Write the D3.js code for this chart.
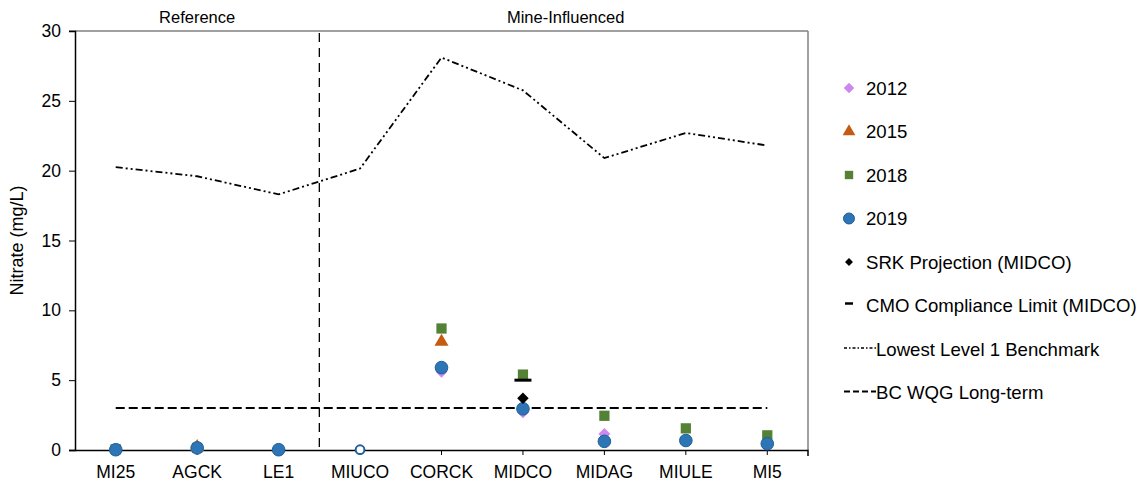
<!DOCTYPE html>
<html lang="en-US">
<head>
<meta charset="utf-8">
<script src="https://d3js.org/d3.v7.min.js"></script>
<style>
body { margin: 0; background: #fff; font-family: 'Liberation Sans', Arial, sans-serif; }
text { fill: #000; }
.axis text { font-size: 17.5px; font-family: 'Liberation Sans', Arial, sans-serif; fill: #000; }
.axis path, .axis line { stroke: #000; }
.legend text { font-size: 18.6px; }
</style>
</head>
<body>
<svg id="chart" width="1144" height="485"></svg>
<script>
  // sites along the creek
  const sites = ['MI25', 'AGCK', 'LE1', 'MIUCO', 'CORCK', 'MIDCO', 'MIDAG', 'MIULE', 'MI5']
  const yTicks = [0, 5, 10, 15, 20, 25, 30]

  // nitrate (mg/L) per year, null = not sampled
  const y2012 = [null, null, null, null, 5.6, 2.7, 1.15, null, 0.4]
  const y2015 = [null, 0.2, null, null, 7.75, null, null, null, null]
  const y2018 = [0.05, 0.15, null, null, 8.7, 5.4, 2.45, 1.55, 1.05]
  const y2019 = [0.02, 0.15, 0.02, 0.02, 5.9, 2.95, 0.62, 0.68, 0.45]
  const nondetect2019 = ['MIUCO']

  const srkProjection = 3.7   // MIDCO
  const cmoLimit = 5.0        // MIDCO
  const benchmark = [20.25, 19.6, 18.3, 20.15, 28.1, 25.75, 20.9, 22.7, 21.8]
  const bcWqg = 3

  const svg = d3.select('#chart')
  const plotL = 75, plotR = 808, plotT = 31, plotB = 450

  const x = d3.scaleBand().domain(sites).range([plotL, plotR])
  const y = d3.scaleLinear().domain([0, 30]).range([plotB, plotT])
  const cx = (s) => x(s) + x.bandwidth() / 2

  // frame (top + right in grey)
  svg.append('line').attr('x1', plotL - 6).attr('x2', plotR).attr('y1', plotT).attr('y2', plotT)
    .attr('stroke', '#808080').attr('stroke-width', 1.5)
  svg.append('line').attr('x1', plotR).attr('x2', plotR).attr('y1', plotT).attr('y2', plotB)
    .attr('stroke', '#808080').attr('stroke-width', 1.5)

  svg.append('g').attr('class', 'axis')
    .attr('transform', `translate(${plotL},0)`)
    .call(d3.axisLeft(y).tickValues(yTicks).tickSize(6).tickPadding(8))
    .call(g => g.select('.domain').attr('stroke-width', 1.5))

  const xAxis = svg.append('g').attr('class', 'axis')
    .attr('transform', `translate(0,${plotB})`)
    .call(d3.axisBottom(x).tickSize(5).tickSizeOuter(0).tickPadding(8))
  xAxis.select('.domain').attr('d', `M${plotL - 6},0.5H${plotR}V6`).attr('stroke-width', 1.5)
  xAxis.selectAll('text').attr('dy', '0.85em')

  // reference / mine-influenced split
  const split = x('MIUCO')
  svg.append('line').attr('x1', split).attr('x2', split).attr('y1', plotT + 2).attr('y2', plotB)
    .attr('stroke', '#000').attr('stroke-width', 1.3).attr('stroke-dasharray', '9 6')

  svg.append('text').attr('x', (plotL + split) / 2 + 0).attr('y', 23).attr('text-anchor', 'middle')
    .style('font-size', '16.5px').text('Reference')
  svg.append('text').attr('x', (split + plotR) / 2 + 2).attr('y', 23).attr('text-anchor', 'middle')
    .style('font-size', '16.5px').text('Mine-Influenced')

  svg.append('text').attr('transform', `translate(23,${(plotT + plotB) / 2}) rotate(-90)`)
    .attr('text-anchor', 'middle').style('font-size', '18px').text('Nitrate (mg/L)')

  // guideline lines
  svg.append('path')
    .attr('d', d3.line().x((d, i) => cx(sites[i])).y(d => y(d))(benchmark))
    .attr('fill', 'none').attr('stroke', '#000').attr('stroke-width', 1.8)
    .attr('stroke-dasharray', '7 3 2 3 2 3')

  svg.append('line').attr('x1', cx(sites[0])).attr('x2', cx(sites[sites.length - 1]))
    .attr('y1', y(bcWqg)).attr('y2', y(bcWqg))
    .attr('stroke', '#000').attr('stroke-width', 2).attr('stroke-dasharray', '9 4')

  const colors = { '2012': '#CC88EE', '2015': '#C55A11', '2018': '#548235', '2019': '#2E75B6' }
  const shapes = { '2012': d3.symbolDiamond2, '2015': d3.symbolTriangle, '2018': d3.symbolSquare, '2019': d3.symbolCircle }
  const sizes = { '2012': 90, '2015': 85, '2018': 105, '2019': 125 }

  function drawSeries(key, vals) {
    svg.append('g').selectAll('path')
      .data(vals.map((v, i) => ({ site: sites[i], v })).filter(d => d.v !== null))
      .join('path')
      .attr('transform', d => `translate(${cx(d.site)},${y(d.v)})`)
      .attr('d', d3.symbol().type(shapes[key]).size(d => key === '2019' && nondetect2019.includes(d.site) ? 60 : sizes[key]))
      .attr('fill', d => key === '2019' && nondetect2019.includes(d.site) ? '#fff' : colors[key])
      .attr('stroke', d => key === '2019' ? '#1F5F99' : 'none')
      .attr('stroke-width', d => key === '2019' && nondetect2019.includes(d.site) ? 2 : 1)
  }
  drawSeries('2012', y2012)
  drawSeries('2015', y2015)
  drawSeries('2018', y2018)
  drawSeries('2019', y2019)

  // MIDCO projection + compliance limit
  svg.append('path').attr('transform', `translate(${cx('MIDCO')},${y(srkProjection)})`)
    .attr('d', d3.symbol().type(d3.symbolDiamond2).size(85)).attr('fill', '#000')
  svg.append('line').attr('x1', cx('MIDCO') - 8.5).attr('x2', cx('MIDCO') + 8.5)
    .attr('y1', y(cmoLimit)).attr('y2', y(cmoLimit)).attr('stroke', '#000').attr('stroke-width', 3)

  // legend
  const lg = svg.append('g').attr('class', 'legend')
  const rows = [
    { label: '2012', type: 'sym', key: '2012' },
    { label: '2015', type: 'sym', key: '2015' },
    { label: '2018', type: 'sym', key: '2018' },
    { label: '2019', type: 'sym', key: '2019' },
    { label: 'SRK Projection (MIDCO)', type: 'srk' },
    { label: 'CMO Compliance Limit (MIDCO)', type: 'cmo' },
    { label: 'Lowest Level 1 Benchmark', type: 'bench' },
    { label: 'BC WQG Long-term', type: 'wqg' }
  ]
  rows.forEach((r, i) => {
    const ry = 88 + i * 43.5
    let tx = 866
    if (r.type === 'sym') {
      lg.append('path').attr('transform', `translate(849,${ry})`)
        .attr('d', d3.symbol().type(shapes[r.key]).size(r.key === '2019' ? 95 : 70))
        .attr('fill', colors[r.key]).attr('stroke', r.key === '2019' ? '#1F5F99' : 'none')
    } else if (r.type === 'srk') {
      lg.append('path').attr('transform', `translate(849,${ry})`)
        .attr('d', d3.symbol().type(d3.symbolDiamond2).size(40)).attr('fill', '#000')
    } else if (r.type === 'cmo') {
      lg.append('line').attr('x1', 845).attr('x2', 853).attr('y1', ry - 2).attr('y2', ry - 2)
        .attr('stroke', '#000').attr('stroke-width', 2.5)
    } else if (r.type === 'bench') {
      lg.append('line').attr('x1', 844).attr('x2', 876).attr('y1', ry - 1).attr('y2', ry - 1)
        .attr('stroke', '#000').attr('stroke-width', 1.5).attr('stroke-dasharray', '3 2 1.5 2')
      tx = 876
    } else {
      lg.append('line').attr('x1', 844).attr('x2', 876).attr('y1', ry - 1).attr('y2', ry - 1)
        .attr('stroke', '#000').attr('stroke-width', 2).attr('stroke-dasharray', '6 3')
      tx = 876
    }
    lg.append('text').attr('x', tx).attr('y', ry).attr('dy', '0.35em').text(r.label)
  })
</script>
</body>
</html>
